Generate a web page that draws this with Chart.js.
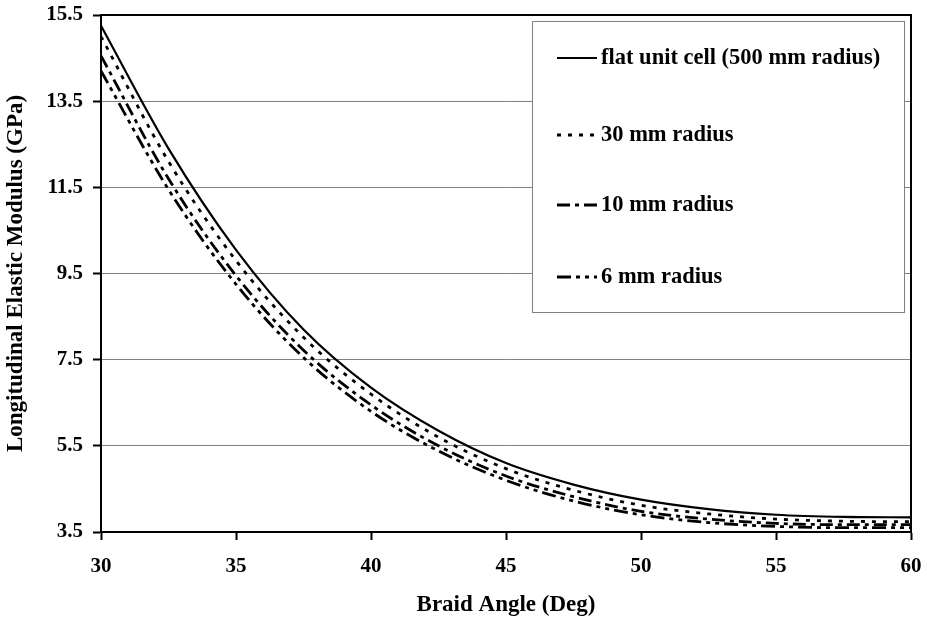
<!DOCTYPE html>
<html>
<head>
<meta charset="utf-8">
<script src="https://cdn.jsdelivr.net/npm/chart.js@4/dist/chart.umd.min.js"></script>
<style>
  html, body { margin: 0; padding: 0; background: #fff; }
  #wrap { width: 927px; height: 623px; }
</style>
</head>
<body>
<div id="wrap"><canvas id="c" width="927" height="623"></canvas></div>
<script>
// ---- data ----
const braidAngles = [30, 32.5, 35, 37.5, 40, 42.5, 45, 47.5, 50, 52.5, 55, 57.5, 60];
const flatCell    = [15.25, 12.4, 10.05, 8.2, 6.85, 5.85, 5.1, 4.6, 4.25, 4.03, 3.9, 3.85, 3.84];
const radius30    = [15.0, 12.1, 9.8, 8.02, 6.7, 5.7, 4.97, 4.47, 4.12, 3.92, 3.8, 3.75, 3.74];
const radius10    = [14.55, 11.7, 9.45, 7.72, 6.45, 5.5, 4.8, 4.32, 3.98, 3.8, 3.7, 3.67, 3.67];
const radius6     = [14.2, 11.45, 9.25, 7.55, 6.3, 5.38, 4.7, 4.22, 3.9, 3.72, 3.63, 3.6, 3.6];
const seriesNames = ['flat unit cell (500 mm radius)', '30 mm radius', '10 mm radius', '6 mm radius'];
const xTickValues = [30, 35, 40, 45, 50, 55, 60];
const yTickValues = [3.5, 5.5, 7.5, 9.5, 11.5, 13.5, 15.5];
const xTitle = 'Braid Angle (Deg)';
const yTitle = 'Longitudinal Elastic Modulus (GPa)';

const FONT = '"Liberation Serif", "Times New Roman", serif';
const toPts = arr => arr.map((v, i) => ({ x: braidAngles[i], y: v }));

const styles = [
  { borderDash: [], borderWidth: 2.2 },
  { borderDash: [4, 7], borderWidth: 2.8 },
  { borderDash: [13, 5, 4, 5], borderWidth: 2.8 },
  { borderDash: [14, 5, 4, 5, 4, 5], borderWidth: 2.8 }
];
const seriesData = [flatCell, radius30, radius10, radius6];

const datasets = seriesData.map((d, i) => ({
  label: seriesNames[i],
  data: toPts(d),
  borderColor: '#000',
  backgroundColor: '#000',
  borderWidth: styles[i].borderWidth,
  borderDash: styles[i].borderDash,
  pointRadius: 0,
  cubicInterpolationMode: 'monotone',
  fill: false
}));

const framePlugin = {
  id: 'frame',
  afterDatasetsDraw(chart) {
    const { ctx, chartArea: a } = chart;
    ctx.save();
    ctx.strokeStyle = '#000';
    ctx.lineWidth = 2;
    ctx.setLineDash([]);
    ctx.strokeRect(a.left, a.top, a.right - a.left, a.bottom - a.top);
    ctx.restore();
  }
};

const legendPlugin = {
  id: 'boxLegend',
  afterDraw(chart) {
    const { ctx } = chart;
    const box = { x: 532.5, y: 21.5, w: 372, h: 291 };
    const rows = [58, 135, 205, 277];
    ctx.save();
    ctx.fillStyle = '#fff';
    ctx.fillRect(box.x, box.y, box.w, box.h);
    ctx.strokeStyle = '#808080';
    ctx.lineWidth = 1;
    ctx.setLineDash([]);
    ctx.strokeRect(box.x, box.y, box.w, box.h);
    chart.data.datasets.forEach((ds, i) => {
      const y = rows[i];
      ctx.beginPath();
      ctx.strokeStyle = '#000';
      ctx.lineWidth = ds.borderWidth;
      ctx.setLineDash(ds.borderDash || []);
      ctx.moveTo(557, y);
      ctx.lineTo(597, y);
      ctx.stroke();
      ctx.setLineDash([]);
      ctx.fillStyle = '#000';
      ctx.font = 'bold 22.5px ' + FONT;
      ctx.textBaseline = 'middle';
      ctx.textAlign = 'left';
      ctx.fillText(ds.label, 601, y);
    });
    ctx.restore();
  }
};

new Chart(document.getElementById('c'), {
  type: 'line',
  data: { datasets },
  plugins: [framePlugin, legendPlugin],
  options: {
    responsive: false,
    animation: false,
    devicePixelRatio: 1,
    layout: { padding: { top: 15, right: 16, left: 0, bottom: 0 } },
    plugins: { legend: { display: false }, tooltip: { enabled: false } },
    scales: {
      x: {
        type: 'linear',
        min: 30, max: 60,
        afterBuildTicks: s => { s.ticks = xTickValues.map(v => ({ value: v })); },
        afterFit: s => { s.height = 91; s.paddingLeft = 0; s.paddingRight = 0; },
        grid: { drawOnChartArea: false, drawTicks: true, tickLength: 8, tickColor: '#000', tickWidth: 2 },
        border: { display: true, color: '#000', width: 2 },
        ticks: { color: '#000', font: { family: FONT, size: 21, weight: 'bold' }, padding: 14, maxRotation: 0, callback: v => String(v) },
        title: { display: true, text: xTitle, color: '#000', font: { family: FONT, size: 23, weight: 'bold' }, padding: { top: 0, bottom: 4 } }
      },
      y: {
        type: 'linear',
        min: 3.5, max: 15.5,
        afterBuildTicks: s => { s.ticks = yTickValues.map(v => ({ value: v })); },
        afterFit: s => { s.width = 101; s.paddingTop = 0; s.paddingBottom = 0; },
        grid: { color: '#808080', lineWidth: 1, drawTicks: true, tickLength: 8, tickColor: '#000', tickWidth: 2 },
        border: { display: true, color: '#000', width: 2 },
        ticks: { color: '#000', font: { family: FONT, size: 21, weight: 'bold' }, padding: 10, callback: v => Number(v).toFixed(1) },
        title: { display: true, text: yTitle, color: '#000', font: { family: FONT, size: 23, weight: 'bold' }, padding: { top: 2, bottom: 0 } }
      }
    }
  }
});
</script>
</body>
</html>
